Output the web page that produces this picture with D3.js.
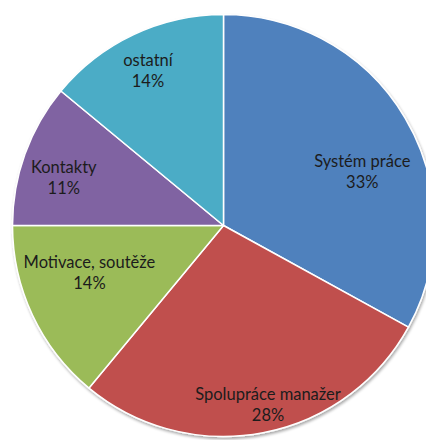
<!DOCTYPE html>
<html>
<head>
<meta charset="utf-8">
<script src="https://cdn.jsdelivr.net/npm/d3@7"></script>
<style>
  html, body { margin: 0; padding: 0; background: #ffffff; }
  svg { display: block; }
</style>
</head>
<body>
<script>
// Podíl jednotlivých oblastí (%)
const categories = ["Systém práce", "Spolupráce manažer", "Motivace, soutěže", "Kontakty", "ostatní"];
const values = [33, 28, 14, 11, 14];
const colors = ["#4F81BD", "#C0504D", "#9BBB59", "#8064A2", "#4BACC6"];

// Label placement: radial fraction of the radius and angular nudge (degrees)
const labelRadius = [0.705, 0.872, 0.674, 0.79, 0.817];
const labelShift = [9.5, -3.2, 5.7, -3.2, -0.8];

const W = 426, H = 440;
const cx = 223.5, cy = 225.5, R = 211;
const lineGap = 21;

const svg = d3.select("body").append("svg")
  .attr("width", W).attr("height", H);

const defs = svg.append("defs");
const f = defs.append("filter").attr("id", "shadow")
  .attr("x", "-10%").attr("y", "-10%").attr("width", "120%").attr("height", "120%");
f.append("feGaussianBlur").attr("in", "SourceAlpha").attr("stdDeviation", 1.5).attr("result", "b");
f.append("feOffset").attr("in", "b").attr("dx", 1).attr("dy", 1.5).attr("result", "o");
f.append("feComponentTransfer").attr("in", "o").attr("result", "s")
  .append("feFuncA").attr("type", "linear").attr("slope", 0.35);
const m = f.append("feMerge");
m.append("feMergeNode").attr("in", "s");
m.append("feMergeNode").attr("in", "SourceGraphic");

const data = categories.map((c, i) => ({ name: c, value: values[i], i }));

const pie = d3.pie().value(d => d.value).sort(null);
const arcs = pie(data);
const arc = d3.arc().innerRadius(0).outerRadius(R);

const g = svg.append("g").attr("transform", `translate(${cx},${cy})`);

g.append("g").attr("filter", "url(#shadow)")
  .selectAll("path").data(arcs).join("path")
  .attr("d", arc)
  .attr("fill", d => colors[d.data.i])
  .attr("stroke", "#ffffff")
  .attr("stroke-width", 1.5)
  .attr("stroke-linejoin", "round");

const total = d3.sum(values);
const fmt = v => Math.round(v / total * 100) + "%";

const labels = g.append("g")
  .attr("font-family", "Lato, 'Open Sans', sans-serif")
  .attr("font-size", 16.5)
  .attr("fill", "#1c1c1c")
  .attr("text-anchor", "middle")
  .attr("dominant-baseline", "central");

arcs.forEach(d => {
  const i = d.data.i;
  const a = (d.startAngle + d.endAngle) / 2 + labelShift[i] * Math.PI / 180;
  const r = R * labelRadius[i];
  const x = Math.sin(a) * r, y = -Math.cos(a) * r;
  const t = labels.append("g").attr("transform", `translate(${x},${y})`);
  t.append("text").attr("y", -lineGap / 2).text(d.data.name);
  t.append("text").attr("y", lineGap / 2).text(fmt(d.data.value));
});
</script>
</body>
</html>
